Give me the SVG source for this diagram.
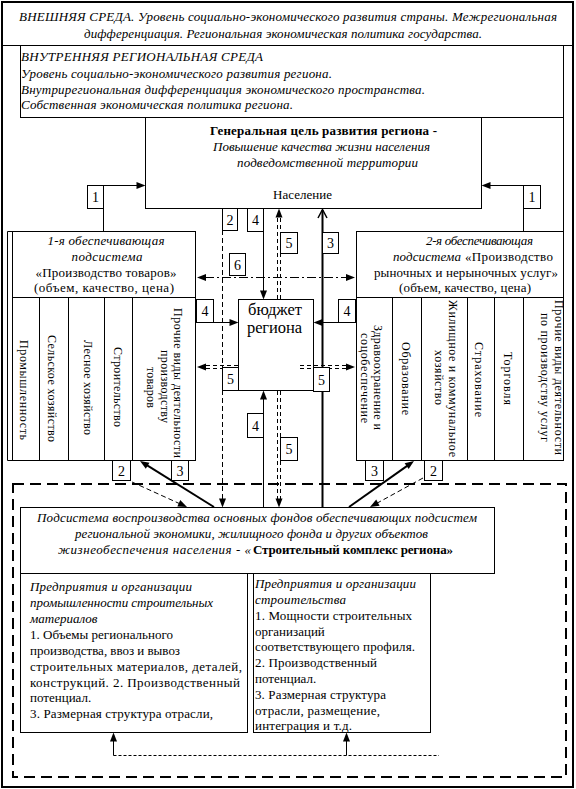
<svg xmlns="http://www.w3.org/2000/svg" width="576" height="789" viewBox="0 0 576 789" font-family="'Liberation Serif', 'DejaVu Serif', serif">
<defs>
<style>
text{font-family:'Liberation Serif','DejaVu Serif',serif;font-size:13px;fill:#000}
.i{font-style:italic}
.b{font-weight:bold}
.m{text-anchor:middle}
.col{font-size:12px;text-anchor:middle}
.bud{font-size:16.5px}
.lbl{text-anchor:middle;font-size:14px}
.box{fill:#fff;stroke:#000;stroke-width:1}
.ln{fill:none;stroke:#000;stroke-width:1}
.thick{fill:none;stroke:#000;stroke-width:2}
.dash{fill:none;stroke:#000;stroke-width:1;stroke-dasharray:5 3}
.dd{fill:none;stroke:#000;stroke-width:1;stroke-dasharray:4 3}
.dashdot{fill:none;stroke:#000;stroke-width:1;stroke-dasharray:9 3 2 3}
.fine{fill:none;stroke:#000;stroke-width:1;stroke-dasharray:3 2}
.frame{fill:none;stroke:#000;stroke-width:2;stroke-dasharray:11 6}
</style>
<path id="ah" d="M0,0 L-9,-3.5 L-9,3.5 Z" fill="#000"/>
</defs>

<g id="outer-environment">
<rect x="2" y="2" width="571" height="785" fill="#fff" stroke="#000" stroke-width="2"/>
<line class="ln" x1="2" y1="45.5" x2="573" y2="45.5"/>
<text class="i m" x="288" y="21" textLength="538" lengthAdjust="spacing">ВНЕШНЯЯ СРЕДА. Уровень социально-экономического развития страны. Межрегиональная</text>
<text class="i m" x="283" y="38" textLength="398" lengthAdjust="spacing">дифференциация. Региональная экономическая политика государства.</text>
</g>

<g id="inner-environment">
<rect class="box" x="20.5" y="45.5" width="543" height="72"/>
<line class="ln" x1="563.5" y1="117.5" x2="563.5" y2="231.5"/>
<text class="i" x="21" y="61" textLength="242" lengthAdjust="spacing">ВНУТРЕННЯЯ РЕГИОНАЛЬНАЯ СРЕДА</text>
<text class="i" x="21" y="78" textLength="311" lengthAdjust="spacing">Уровень социально-экономического развития региона.</text>
<text class="i" x="21" y="93.5" textLength="404" lengthAdjust="spacing">Внутрирегиональная дифференциация экономического пространства.</text>
<text class="i" x="21" y="109" textLength="272" lengthAdjust="spacing">Собственная экономическая политика региона.</text>
</g>

<g id="goal">
<rect class="box" x="145.5" y="117.5" width="336" height="91"/>
<text class="b m" x="323.5" y="135" textLength="227" lengthAdjust="spacing">Генеральная цель развития региона -</text>
<text class="i m" x="321.5" y="150.5" textLength="217" lengthAdjust="spacing">Повышение качества жизни населения</text>
<text class="i m" x="327.5" y="166.5" textLength="181" lengthAdjust="spacing">подведомственной территории</text>
<text class="m" x="302.5" y="199" textLength="59" lengthAdjust="spacing">Население</text>
</g>

<g id="subsystem-goods">
<rect class="box" x="12.5" y="231.5" width="183" height="229"/>
<path class="ln" d="M12.5,231.5 H7.5 V460.5 H12.5"/>
<path class="ln" d="M12.5,297.5 H195.5 M39.5,297.5 V460.5 M68.5,297.5 V460.5 M104.5,297.5 V460.5 M132.5,297.5 V460.5"/>
<text class="i m" x="106" y="245" textLength="117" lengthAdjust="spacing">1-я обеспечивающая</text>
<text class="i m" x="107" y="260.5" textLength="71" lengthAdjust="spacing">подсистема</text>
<text class="m" x="106" y="277" textLength="141" lengthAdjust="spacing">«Производство товаров»</text>
<text class="m" x="104" y="292" textLength="140" lengthAdjust="spacing">(объем, качество, цена)</text>
<text class="col" transform="translate(20,390) rotate(90)" textLength="100" lengthAdjust="spacing">Промышленность</text>
<text class="col" transform="translate(47.5,388.5) rotate(90)" textLength="107" lengthAdjust="spacing">Сельское хозяйство</text>
<text class="col" transform="translate(84,387.5) rotate(90)" textLength="95" lengthAdjust="spacing">Лесное хозяйство</text>
<text class="col" transform="translate(114,387) rotate(90)" textLength="80" lengthAdjust="spacing">Строительство</text>
<text class="col" transform="translate(174,383) rotate(90)" textLength="150" lengthAdjust="spacing">Прочие виды деятельности</text>
<text class="col" transform="translate(161,386.5) rotate(90)" textLength="73" lengthAdjust="spacing">производству</text>
<text class="col" transform="translate(147,387.5) rotate(90)" textLength="41" lengthAdjust="spacing">товаров</text>
</g>

<g id="subsystem-services">
<rect class="box" x="356.5" y="231.5" width="207" height="229"/>
<path class="ln" d="M356.5,297.5 H563.5 M392.5,297.5 V460.5 M421.5,297.5 V460.5 M467.5,297.5 V460.5 M494.5,297.5 V460.5 M523.5,297.5 V460.5"/>
<text class="i m" x="479.5" y="245" textLength="107" lengthAdjust="spacing">2-я обеспечивающая</text>
<text class="i" x="393" y="260.5" textLength="68" lengthAdjust="spacing">подсистема</text>
<text x="465" y="260.5" textLength="88" lengthAdjust="spacing">«Производство</text>
<text class="m" x="466" y="277" textLength="184" lengthAdjust="spacing">рыночных и нерыночных услуг»</text>
<text class="m" x="465" y="292" textLength="132" lengthAdjust="spacing">(объем, качество, цена)</text>
<text class="col" transform="translate(374,377.5) rotate(90)" textLength="105" lengthAdjust="spacing">Здравоохранение и</text>
<text class="col" transform="translate(361,378) rotate(90)" textLength="90" lengthAdjust="spacing">соцобеспечение</text>
<text class="col" transform="translate(402,378.5) rotate(90)" textLength="73" lengthAdjust="spacing">Образование</text>
<text class="col" transform="translate(449,378.5) rotate(90)" textLength="157" lengthAdjust="spacing">Жилищное и коммунальное</text>
<text class="col" transform="translate(435,377.5) rotate(90)" textLength="55" lengthAdjust="spacing">хозяйство</text>
<text class="col" transform="translate(475,379.5) rotate(90)" textLength="75" lengthAdjust="spacing">Страхование</text>
<text class="col" transform="translate(504,378.5) rotate(90)" textLength="53" lengthAdjust="spacing">Торговля</text>
<text class="col" transform="translate(555,377.5) rotate(90)" textLength="155" lengthAdjust="spacing">Прочие виды деятельности</text>
<text class="col" transform="translate(541,377.5) rotate(90)" textLength="129" lengthAdjust="spacing">по производству услуг</text>
</g>

<g id="budget">
<rect class="box" x="238.5" y="299.5" width="75" height="91"/>
<text class="bud" x="248" y="315" textLength="54" lengthAdjust="spacing">бюджет</text>
<text class="bud" x="247" y="333" textLength="55" lengthAdjust="spacing">региона</text>
</g>

<g id="construction-frame">
<rect class="frame" x="13" y="484" width="553" height="293"/>
</g>

<g id="construction-complex">
<rect class="box" x="20.5" y="507.5" width="474" height="66"/>
<text class="i m" x="257" y="522" textLength="440" lengthAdjust="spacing">Подсистема воспроизводства основных фондов обеспечивающих подсистем</text>
<text class="i m" x="251.5" y="538" textLength="353" lengthAdjust="spacing">региональной экономики, жилищного фонда и других объектов</text>
<text class="i" x="58" y="554" textLength="193" lengthAdjust="spacing">жизнеобеспечения населения - «</text>
<text class="b" x="253" y="554" textLength="200" lengthAdjust="spacing">Строительный комплекс региона»</text>
</g>

<g id="materials-industry">
<rect class="box" x="20.5" y="573.5" width="227" height="159"/>
<text class="i" x="30" y="591" textLength="162" lengthAdjust="spacing">Предприятия и организации</text>
<text class="i" x="30" y="607" textLength="183" lengthAdjust="spacing">промышленности строительных</text>
<text class="i" x="30" y="623">материалов</text>
<text x="30" y="638.5" textLength="143" lengthAdjust="spacing">1. Объемы регионального</text>
<text x="30" y="654.5" textLength="150" lengthAdjust="spacing">производства, ввоз и вывоз</text>
<text x="30" y="670.5" textLength="212" lengthAdjust="spacing">строительных материалов, деталей,</text>
<text x="30" y="686.5" textLength="210" lengthAdjust="spacing">конструкций. 2. Производственный</text>
<text x="30" y="702">потенциал.</text>
<text x="30" y="718" textLength="183" lengthAdjust="spacing">3. Размерная структура отрасли,</text>
</g>

<g id="construction-organizations">
<rect class="box" x="253.5" y="573.5" width="177" height="159"/>
<text class="i" x="255" y="588" textLength="161" lengthAdjust="spacing">Предприятия и организации</text>
<text class="i" x="255" y="604" textLength="91" lengthAdjust="spacing">строительства</text>
<text x="255" y="619.5" textLength="157" lengthAdjust="spacing">1. Мощности строительных</text>
<text x="255" y="635.5">организаций</text>
<text x="255" y="651" textLength="160" lengthAdjust="spacing">соответствующего профиля.</text>
<text x="255" y="667" textLength="122" lengthAdjust="spacing">2. Производственный</text>
<text x="255" y="683">потенциал.</text>
<text x="255" y="698.5" textLength="131" lengthAdjust="spacing">3. Размерная структура</text>
<text x="255" y="714.5" textLength="125" lengthAdjust="spacing">отрасли, размещение,</text>
<text x="255" y="730" textLength="97" lengthAdjust="spacing">интеграция и т.д.</text>
</g>

<g id="connectors">
<path class="ln" d="M103.5,231.5 V185.5 H137"/>
<use href="#ah" transform="translate(145.5,185.5)"/>
<path class="ln" d="M523.5,231.5 V185.5 H490"/>
<use href="#ah" transform="translate(481.5,185.5) rotate(180)"/>
<path class="dashdot" d="M205,277.5 H346"/>
<use href="#ah" transform="translate(197,277.5) rotate(180)"/>
<use href="#ah" transform="translate(355,277.5)"/>
<path class="dash" d="M222.5,230 V499"/>
<use href="#ah" transform="translate(222.5,507.5) rotate(90)"/>
<path class="ln" d="M263.5,208.5 V291"/>
<use href="#ah" transform="translate(263.5,299.5) rotate(90)"/>
<path class="ln" d="M263.5,507.5 V399"/>
<use href="#ah" transform="translate(263.5,390.5) rotate(-90)"/>
<path class="dd" d="M277.5,299 V217 M280.5,299 V217"/>
<use href="#ah" transform="translate(279,208.5) rotate(-90)"/>
<path class="dd" d="M277.5,391 V499 M280.5,391 V499"/>
<use href="#ah" transform="translate(279,507.5) rotate(90)"/>
<path class="thick" d="M322.5,507.5 V210"/>
<polyline class="ln" style="stroke-width:1.5" points="318,218 322.5,209.5 327,218"/>
<path class="ln" d="M196,322.5 H230"/>
<use href="#ah" transform="translate(238.5,322.5)"/>
<path class="ln" d="M356,322.5 H322"/>
<use href="#ah" transform="translate(313.5,322.5) rotate(180)"/>
<path class="dd" d="M238,365.5 H206 M238,368.5 H206"/>
<use href="#ah" transform="translate(197,367) rotate(180)"/>
<path class="dd" d="M300,365.5 H346 M300,368.5 H346"/>
<use href="#ah" transform="translate(355,367)"/>
<path class="thick" d="M214,507 L146.8,465.2"/>
<use href="#ah" transform="translate(140,461) rotate(-148.1)"/>
<path class="dash" d="M132,482 L179.7,503.7"/>
<use href="#ah" transform="translate(187,507) rotate(24.4)"/>
<path class="thick" d="M349,507 L407.5,465.6"/>
<use href="#ah" transform="translate(414,461) rotate(-35.3)"/>
<path class="dash" d="M423,478 L377,503.2"/>
<use href="#ah" transform="translate(370,507) rotate(151.3)"/>
<path class="fine" d="M113.5,755.5 H439"/>
<path class="ln" d="M113.5,755.5 V741 M346.5,755.5 V741"/>
<use href="#ah" transform="translate(113.5,732.5) rotate(-90)"/>
<use href="#ah" transform="translate(346.5,732.5) rotate(-90)"/>
</g>

<g id="label-1-left"><rect class="box" x="87.5" y="185.5" width="16" height="23"/><text class="lbl" x="95.5" y="202">1</text></g>
<g id="label-1-right"><rect class="box" x="523.5" y="185.5" width="17" height="23"/><text class="lbl" x="532" y="202">1</text></g>
<g id="label-2-top"><rect class="box" x="222.5" y="208.5" width="15" height="22"/><text class="lbl" x="230" y="224.5">2</text></g>
<g id="label-4-top"><rect class="box" x="247.5" y="208.5" width="16" height="23"/><text class="lbl" x="255.5" y="225">4</text></g>
<g id="label-5-top"><rect class="box" x="280.5" y="232.5" width="17" height="21"/><text class="lbl" x="289" y="248">5</text></g>
<g id="label-3-top"><rect class="box" x="322.5" y="232.5" width="16" height="21"/><text class="lbl" x="330.5" y="248">3</text></g>
<g id="label-6"><rect class="box" x="229.5" y="253.5" width="16" height="22"/><text class="lbl" x="237.5" y="269.5">6</text></g>
<g id="label-4-left"><rect class="box" x="196.5" y="299.5" width="17" height="23"/><text class="lbl" x="205" y="316">4</text></g>
<g id="label-4-right"><rect class="box" x="338.5" y="299.5" width="17" height="23"/><text class="lbl" x="347" y="316">4</text></g>
<g id="label-5-left"><rect class="box" x="222.5" y="367.5" width="16" height="23"/><text class="lbl" x="230.5" y="384">5</text></g>
<g id="label-5-right"><rect class="box" x="313.5" y="367.5" width="16" height="24"/><text class="lbl" x="321.5" y="384.5">5</text></g>
<g id="label-4-bottom"><rect class="box" x="247.5" y="413.5" width="16" height="24"/><text class="lbl" x="255.5" y="430.5">4</text></g>
<g id="label-5-bottom"><rect class="box" x="280.5" y="437.5" width="17" height="23"/><text class="lbl" x="289" y="454">5</text></g>
<g id="label-2-bl"><rect class="box" x="112.5" y="460.5" width="18" height="20"/><text class="lbl" x="121.5" y="475.5">2</text></g>
<g id="label-3-bl"><rect class="box" x="171.5" y="460.5" width="17" height="20"/><text class="lbl" x="180" y="475.5">3</text></g>
<g id="label-3-br"><rect class="box" x="365.5" y="460.5" width="18" height="20"/><text class="lbl" x="374.5" y="475.5">3</text></g>
<g id="label-2-br"><rect class="box" x="424.5" y="460.5" width="18" height="20"/><text class="lbl" x="433.5" y="475.5">2</text></g>
</svg>
